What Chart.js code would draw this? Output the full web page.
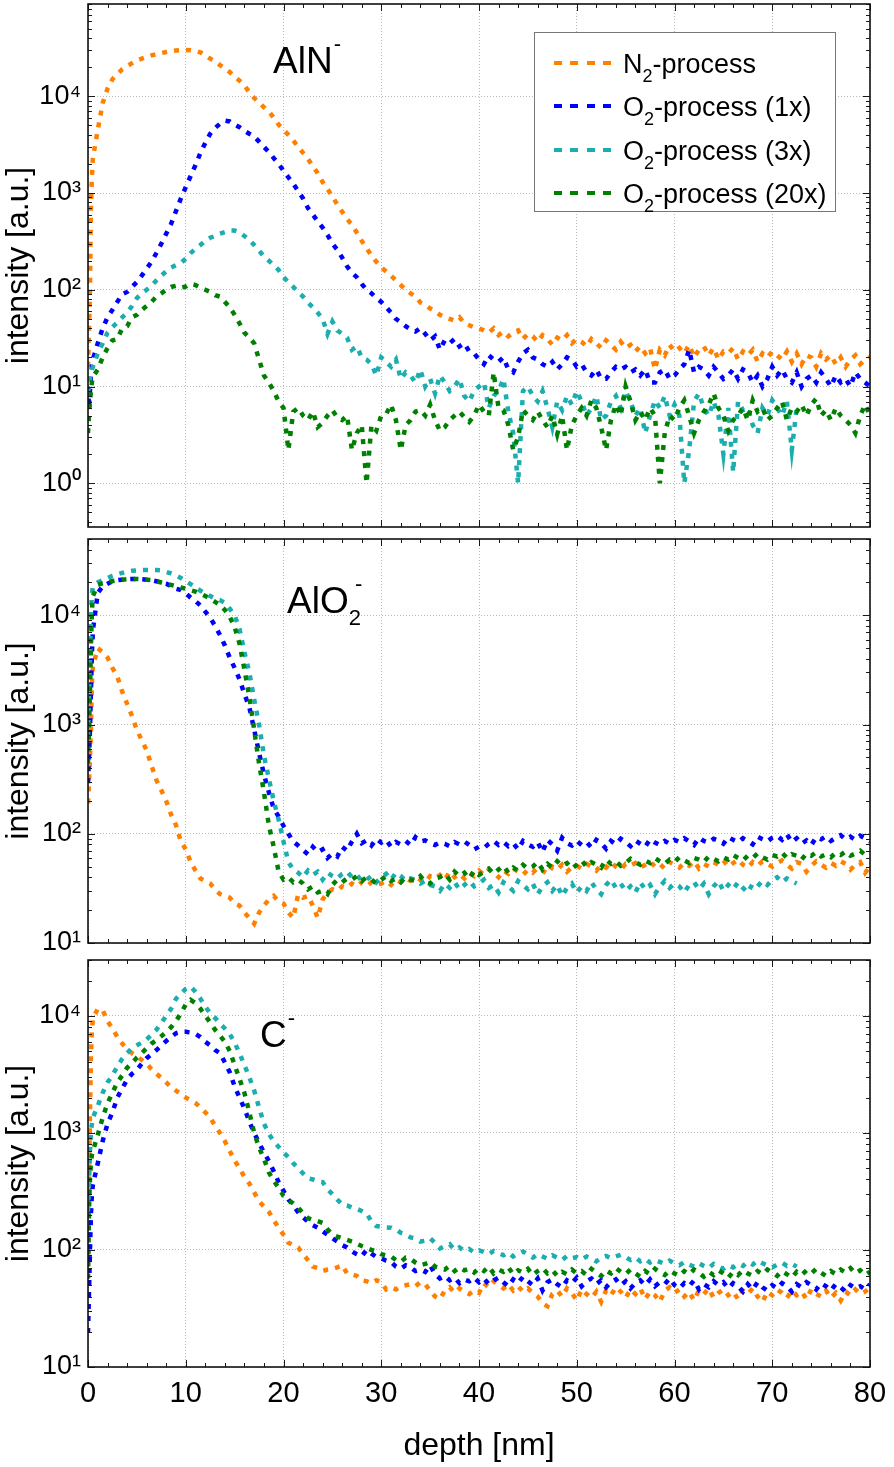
<!DOCTYPE html>
<html>
<head>
<meta charset="utf-8">
<script src="https://cdn.jsdelivr.net/npm/chart.js@4/dist/chart.umd.min.js"></script>
<style>
  html, body { margin: 0; padding: 0; background: #fff; }
  #wrap { position: relative; width: 894px; height: 1467px; overflow: hidden; background: #fff; }
  canvas { position: absolute; left: 0; }
  .lbl { position: absolute; font-family: 'Liberation Sans', Arial, Helvetica, sans-serif; font-size: 37px; line-height: 37px; color: #000; white-space: nowrap; }
  .sup { font-size: 22px; position: relative; top: -22px; margin-left: 1px; }
  .sub { font-size: 22px; position: relative; top: 12px; }
  #legend { position: absolute; left: 534px; top: 32px; width: 300px; height: 178px; border: 1.5px solid #777; background: #fff; }
  .lrow { position: absolute; left: 88px; font-family: 'Liberation Sans', Arial, Helvetica, sans-serif; font-size: 27px; line-height: 27px; color: #000; white-space: nowrap; }
  .lrow .s { font-size: 18px; position: relative; top: 9px; }
  .lsample { position: absolute; left: 19px; width: 59px; height: 4px; }
</style>
</head>
<body>
<div id="wrap">
  <canvas id="c1" width="894" height="540" style="top:0px;width:894px;height:540px"></canvas>
  <canvas id="c2" width="894" height="430" style="top:530px;width:894px;height:430px"></canvas>
  <canvas id="c3" width="894" height="522" style="top:945px;width:894px;height:522px"></canvas>
  <div class="lbl" style="left:273px;top:42px">AlN<span class="sup">-</span></div>
  <div class="lbl" style="left:287px;top:582px">AlO<span class="sub">2</span><span class="sup" style="margin-left:-6px">-</span></div>
  <div class="lbl" style="left:260px;top:1016px">C<span class="sup">-</span></div>
  <div id="legend"></div>
</div>
<script>
// ---------------- DATA ----------------
const depth = [0,0.1,0.2,0.3,0.4,
0.5,1,1.5,2,2.5,3,3.5,4,4.5,5,
5.5,6,6.5,7,7.5,8,8.5,9,9.5,10,
10.5,11,11.5,12,12.5,13,13.5,14,14.5,15,
15.5,16,16.5,17,17.5,18,18.5,19,19.5,20,
20.5,21,21.5,22,22.5,23,23.5,24,24.5,25,
25.5,26,26.5,27,27.5,28,28.5,29,29.5,30,
30.5,31,31.5,32,32.5,33,33.5,34,34.5,35,
35.5,36,36.5,37,37.5,38,38.5,39,39.5,40,
40.5,41,41.5,42,42.5,43,43.5,44,44.5,45,
45.5,46,46.5,47,47.5,48,48.5,49,49.5,50,
50.5,51,51.5,52,52.5,53,53.5,54,54.5,55,
55.5,56,56.5,57,57.5,58,58.5,59,59.5,60,
60.5,61,61.5,62,62.5,63,63.5,64,64.5,65,
65.5,66,66.5,67,67.5,68,68.5,69,69.5,70,
70.5,71,71.5,72,72.5,73,73.5,74,74.5,75,
75.5,76,76.5,77,77.5,78,78.5,79,79.5,80];

const seriesNames = ['N2-process', 'O2-process (1x)', 'O2-process (3x)', 'O2-process (20x)'];
const xTicks = [0,10,20,30,40,50,60,70,80];
const p1Decades = [1,10,100,1000,10000];
const p2Decades = [10,100,1000,10000];
const p3Decades = [10,100,1000,10000];

// Panel 1: AlN-
const p1N2 = [16,38,100,700,1500,
2300,4500,8500,12000,15000,17000,19000,20500,22000,23500,
24500,25500,26500,27200,28000,28700,29300,29800,30000,30200,
30000,29500,28500,26500,24500,23000,21000,19500,17800,16000,
14500,13000,11000,9600,8600,7700,7000,6000,5100,4500,
4000,3500,3000,2600,2250,1900,1600,1300,1100,920,
760,640,540,470,390,320,270,225,195,170,
155,140,125,112,100,92,85,74,70,64,
60,55,52,50,48,52,45,43,41,40,
38,36,40,34,37,33,36,38,31,35,
33,29,34,31,27,32,30,34,28,31,
29,26,31,28,25,30,27,24,29,25,
27,23,26,22,25,15,24,21,27,23,
25,22,27,20,24,26,21,25,19,23,
22,25,19,23,21,24,18,22,20,23,
21,19,23,18,22,17,21,20,16,22,
19,21,17,20,16,19,21,17,19,20];
const p1O1 = [10,6,9,13,16,
19,28,40,52,62,75,90,95,107,120,
140,165,195,240,300,380,480,650,880,1150,
1500,1950,2600,3300,4100,4700,5200,5600,5500,5100,
4800,4400,4100,3850,3400,3000,2650,2300,2000,1700,
1450,1250,1050,880,700,600,510,440,370,300,
260,215,175,150,135,115,100,92,82,75,
66,58,50,46,42,39,37,40,35,30,
33,24,30,28,31,26,28,23,22,19,
17,21,19,18,20,15,14,18,22,24,
20,19,17,16,18,15,17,20,19,16,
17,14,13,15,12,12,14,16,15,16,
14,15,13,15,11,11,14,15,12,13,
15,17,24,14,16,15,13,16,14,12,
13,15,12,15,14,11,13,10,12,16,
13,15,12,11,14,10,12,13,11,14,
12,10,13,11,12,10,14,12,11,10];
const p1O3 = [8.5,10,12,14,15,
16,22,28,36,41,46,52,58,68,82,
92,100,110,125,140,155,170,180,190,210,
240,265,290,320,345,360,380,395,410,410,
395,360,330,290,255,220,200,180,160,135,
120,107,95,85,74,66,58,50,35,47,
38,35,32,24,26,20,19,17,13,20,
18,16,19,12,14,13,11,15,10,12,
8.5,13,11,9,10,12,8,7,9,10,
11,6,8,9,12,5.5,3.3,1.0,9,10,
8,7,9,6,3.8,7,5.7,8,6.5,9,
7,5,6,8,4.5,5,7,8,6,9,
7,5,6,3.3,5,7.2,6,8,5,6.5,
5,1.0,2.2,7,8.5,6,5,7,5,2,
6,1.3,7,5.7,6,4,3.3,6,5,7.2,
6,5,7,2.2,6];
const p1O20 = [3.3,5,7,9,11,
12.6,15,20,25,30,31,40,42,52,55,
62,68,75,85,92,100,107,110,105,108,
115,112,105,100,95,88,85,75,66,55,
45,36,32,28,19,13,11,9,7,6,
2.2,5.5,6,5,4.5,5.5,3.8,4.2,5,5.7,
4.8,4.5,5,2.2,3.3,4,1.0,4,3.5,5,
5.2,6.5,4.5,2.2,4,4.5,5.5,5.7,5,6.5,
4.5,3.5,3.8,4.5,5,5.5,4.8,4.3,5,6.5,
5.5,5,14,6,5.7,4,2.2,3,5.7,5,
4.5,5.5,4.5,3.8,5,3.2,5,2.2,4,5,
6,5,7.2,6,3.8,2.2,4.5,6.5,5,10,
7,4.5,5.5,4.5,6,5,1.0,3.3,5,4.5,
6,7.2,5,3.3,4.5,5.5,6.5,8.5,6,5,
3.5,4.5,5,6,4.5,7.2,5.5,6,4.5,5,
6,7,4.5,6,5.5,6.5,5,6.5,7.5,5,
5.7,4.5,6,5,4.5,4,3.3,5,6.5,5];

// Panel 2: AlO2-
const p2N2 = [190,290,500,890,2400,
3400,5000,4600,4100,3300,2750,2000,1550,1200,890,
720,580,420,310,250,200,150,120,85,72,
55,46,39,37,35,31,28,27,26,23,
22,19,17,15,19,22,25,27,24,23,
19,17,28,26,27,22,17,25,29,31,
30,33,32,35,33,36,33,36,34,35,
37,34,38,36,39,37,40,38,36,41,
39,42,38,45,40,43,39,44,41,46,
42,47,44,40,46,43,48,45,42,47,
44,49,46,43,50,47,52,45,49,51,
48,53,50,46,52,49,55,50,47,53,
51,54,49,52,56,50,53,48,55,52,
49,54,51,56,48,53,50,55,52,57,
50,54,58,52,49,55,51,56,53,50,
54,57,52,48,55,53,45,51,56,52,
49,54,51,56,53,47,52,55,44,50];
const p2O1 = [290,500,890,2000,4500,
7300,16000,18500,19500,20500,21000,21200,21400,21500,21500,
21400,21200,21000,20500,20000,19500,18500,17500,17000,16000,
14500,13500,12300,10800,9500,8000,6600,5300,4100,3300,
2600,1900,1450,900,550,350,240,170,144,118,
100,85,78,71,65,76,68,72,60,66,
62,76,70,85,100,82,87,78,90,83,
88,76,84,80,86,79,93,85,87,82,
79,83,81,77,84,80,85,79,72,76,
74,81,86,79,84,77,82,72,86,80,
76,84,68,88,80,70,92,82,78,86,
79,84,75,88,82,73,86,80,90,84,
77,87,81,76,89,83,79,86,81,88,
84,91,85,79,92,86,83,90,87,81,
93,88,84,91,86,80,94,89,85,92,
96,88,99,84,91,81,87,79,93,89,
95,86,92,97,89,94,88,96,91,85];
const p2O3 = [770,1800,4150,10000,16000,
18000,20000,21000,22000,23000,23800,24500,25200,25600,25800,
26000,26000,26000,26000,25800,25000,24200,23200,22000,20500,
19300,18000,16800,15800,15000,14200,13800,13000,11500,10000,
7500,4600,3000,1700,1000,520,320,200,135,85,
55,47,44,40,46,42,45,38,44,41,
39,43,45,40,42,37,38,41,36,40,
43,38,44,41,37,39,38,35,37,34,
33,30,35,32,36,31,34,37,33,35,
38,32,34,29,36,33,30,37,34,31,
35,28,33,36,30,34,27,32,35,29,
33,30,36,31,28,34,38,32,35,30,
33,29,36,31,34,28,33,37,32,35,
33,29,34,36,31,35,28,33,37,30,
34,31,36,32,29,35,33,37,34,38,
40,36,39,37,35];
const p2O20 = [440,890,2000,5100,11000,
15000,19000,19700,20200,20600,21000,21200,21400,21500,21500,
21400,21200,21000,20500,20000,19500,19000,18500,18000,17500,
17000,16500,15800,15000,14200,13300,12500,11200,9700,7800,
5500,3200,1800,900,440,240,120,76,45,38,
40,36,38,35,31,33,29,30,28,34,
38,36,39,38,41,37,40,38,35,38,
41,37,39,36,40,38,37,41,36,35,
39,40,43,38,45,41,44,39,46,42,
45,48,43,47,51,44,49,46,52,48,
50,55,47,53,49,56,51,54,48,52,
57,50,55,52,49,58,53,56,51,54,
59,55,52,57,54,60,56,53,58,55,
61,57,54,60,58,55,62,59,56,61,
58,64,60,57,63,60,66,61,58,64,
62,67,60,65,63,58,66,63,68,62,
65,61,67,64,69,63,66,70,64,67];

// Panel 3: C-
const p3N2 = [74,410,1400,4600,7500,
9500,11500,11200,9000,7800,6600,5800,5200,4800,4500,
4200,3900,3500,3200,2950,2700,2450,2300,2150,2000,
1900,1800,1650,1500,1350,1150,1000,850,700,580,
500,420,370,310,260,235,212,180,155,135,
115,110,105,92,82,72,70,66,68,69,
71,74,63,62,60,55,54,52,55,53,
46,48,46,49,50,51,49,53,51,45,
40,38,45,48,43,47,44,42,45,43,
52,48,54,50,47,51,45,49,44,47,
43,40,35,33,42,45,40,47,43,37,
46,42,39,44,36,45,41,48,44,39,
46,42,47,38,44,41,36,45,48,43,
46,40,44,37,45,42,47,39,43,46,
41,44,38,45,42,47,40,36,44,41,
46,43,39,45,41,44,38,46,42,40,
45,39,43,37,44,41,46,42,44,48];
const p3O1 = [19.5,43,97,200,300,
360,550,850,1200,1500,2000,2400,2850,3200,3450,
3900,4350,4700,5100,5600,6100,6600,7100,7300,7300,
7200,7000,6600,6000,5600,5100,4800,4000,3300,2500,
2000,1620,1250,1000,820,680,575,470,380,320,
270,240,210,190,175,163,155,144,135,126,
118,110,105,97,92,88,100,93,87,85,
81,79,72,69,74,71,66,68,65,74,
62,57,60,55,58,52,56,54,58,53,
57,51,55,58,53,49,56,52,59,54,
50,57,45,53,56,51,48,55,52,58,
49,54,57,51,55,48,53,56,50,54,
47,52,55,50,56,49,53,51,57,50,
47,52,49,55,46,51,48,54,50,53,
47,52,49,44,51,46,53,48,45,50,
47,52,49,44,51,48,53,50,46,52,
49,45,51,48,44,50,47,49,46,51];
const p3O3 = [212,360,690,1020,1200,
1350,1700,2200,2700,3100,3700,4300,4800,5300,5600,
5900,6300,6900,7600,8700,10000,11500,14000,15500,17000,
17800,16000,14000,12000,10500,9600,8600,7800,7000,5900,
4800,3800,3000,2300,1650,1200,980,850,760,680,
620,550,500,450,410,400,385,380,330,300,
270,245,240,230,225,215,205,175,160,158,
156,155,150,140,135,128,125,118,120,126,
115,103,108,112,100,105,98,102,95,99,
96,92,98,94,90,95,88,93,97,91,
86,92,88,84,90,86,82,89,85,87,
83,88,84,80,86,89,85,88,91,87,
82,86,80,84,78,82,79,76,81,77,
74,79,75,72,77,73,70,76,72,69,
74,71,76,73,79,75,81,77,74,71,
75,78,73,76,72];
const p3O20 = [57,212,410,550,650,
700,960,1350,1800,2200,2700,3100,3600,3950,4400,
4800,5300,5800,6200,6700,7300,8000,9000,10500,12500,
13700,12800,11500,10000,8800,7600,6800,6000,5000,3800,
2900,2200,1500,1000,750,600,460,390,340,290,
265,250,230,205,187,180,176,170,150,136,
130,126,122,118,113,108,104,100,97,92,
90,88,82,79,86,84,78,74,76,79,
72,70,68,73,66,71,67,69,64,70,
66,72,63,68,65,71,62,67,64,69,
61,66,70,63,67,60,65,62,68,63,
66,61,69,64,60,67,63,70,65,62,
68,63,59,66,62,69,64,61,67,63,
60,66,62,68,64,59,65,61,67,63,
58,65,61,67,63,60,66,62,68,64,
60,66,62,58,65,61,67,63,69,64,
60,66,62,68,64,70,63,67,61,65];

// ---------------- STYLE ----------------
const FONT = "'Liberation Sans', Arial, Helvetica, sans-serif";
const COLORS = ['#FF8000', '#0000FF', '#1CAEAE', '#008000'];
const ORDERS = [3, 2, 1, 0];
const SUPS = {'-':'\u207B','0':'\u2070','1':'\u00B9','2':'\u00B2','3':'\u00B3','4':'\u2074','5':'\u2075'};

function toSup(n) { return String(n).split('').map(c => SUPS[c] || c).join(''); }

function makeDatasets(seriesList) {
  return seriesList.map((vals, i) => ({
    label: seriesNames[i],
    data: vals.map((v, k) => ({ x: depth[k], y: v })),
    borderColor: COLORS[i],
    backgroundColor: COLORS[i],
    borderWidth: 4.5,
    borderDash: [5, 7],
    borderCapStyle: 'butt',
    borderJoinStyle: 'miter',
    pointRadius: 0,
    tension: 0,
    fill: false,
    order: ORDERS[i]
  }));
}

const frameTicks = {
  id: 'frameTicks',
  afterDatasetsDraw(chart) {
    const { ctx, chartArea: a, scales: { x, y } } = chart;
    ctx.save();
    ctx.strokeStyle = '#1a1a1a';
    ctx.lineWidth = 1;
    ctx.setLineDash([]);
    ctx.beginPath();
    for (let v = x.min; v <= x.max + 1e-9; v += 2) {
      const px = Math.round(x.getPixelForValue(v)) + 0.5;
      const len = (Math.round(v) % 10 === 0) ? 7 : 4;
      ctx.moveTo(px, a.bottom); ctx.lineTo(px, a.bottom - len);
      ctx.moveTo(px, a.top); ctx.lineTo(px, a.top + len);
    }
    const e0 = Math.floor(Math.log10(y.min)), e1 = Math.ceil(Math.log10(y.max));
    for (let e = e0; e <= e1; e++) {
      for (let m = 1; m <= 9; m++) {
        const v = m * Math.pow(10, e);
        if (v < y.min * 0.999 || v > y.max * 1.001) continue;
        const py = Math.round(y.getPixelForValue(v)) + 0.5;
        const len = m === 1 ? 7 : 4;
        ctx.moveTo(a.left, py); ctx.lineTo(a.left + len, py);
        ctx.moveTo(a.right, py); ctx.lineTo(a.right - len, py);
      }
    }
    ctx.stroke();
    ctx.lineWidth = 1.6;
    ctx.strokeStyle = '#111';
    ctx.strokeRect(a.left, a.top, a.right - a.left, a.bottom - a.top);
    ctx.restore();
  }
};

function makeChart(id, seriesList, yMin, yMax, decades, cfg) {
  return new Chart(document.getElementById(id), {
    type: 'line',
    data: { datasets: makeDatasets(seriesList) },
    plugins: [frameTicks],
    options: {
      responsive: false,
      animation: false,
      devicePixelRatio: 1,
      layout: { padding: { left: 0, right: 24, top: cfg.padTop, bottom: cfg.padBottom } },
      plugins: { legend: { display: false }, tooltip: { enabled: false } },
      scales: {
        x: {
          type: 'linear', min: 0, max: 80,
          afterBuildTicks: s => { s.ticks = xTicks.map(v => ({ value: v })); },
          afterFit: s => { s.height = cfg.xHeight; s.paddingLeft = 0; s.paddingRight = 0; },
          grid: { color: '#b9b9b9', lineWidth: 1, drawTicks: false },
          border: { display: false, dash: [1, 2] },
          ticks: { display: cfg.showX, padding: 10, color: '#000', maxRotation: 0, font: { family: FONT, size: 29 } },
          title: { display: cfg.showX, text: 'depth [nm]', color: '#000', font: { family: FONT, size: 32 }, padding: { top: 0, bottom: 2 } }
        },
        y: {
          type: 'logarithmic', min: yMin, max: yMax,
          afterBuildTicks: s => { s.ticks = decades.map(v => ({ value: v })); },
          afterFit: s => { s.width = 88; s.paddingTop = 0; s.paddingBottom = 0; },
          grid: { color: '#b9b9b9', lineWidth: 1, drawTicks: false },
          border: { display: false, dash: [1, 2] },
          ticks: {
            padding: 7, color: '#000', font: { family: FONT, size: 27 },
            callback: v => '10' + toSup(Math.round(Math.log10(v)))
          },
          title: { display: true, text: 'intensity [a.u.]', color: '#000', font: { family: FONT, size: 32 }, padding: { top: 0, bottom: 0 } }
        }
      }
    }
  });
}

makeChart('c1', [p1N2, p1O1, p1O3, p1O20], 0.353, 90000, p1Decades, { padTop: 4, padBottom: 13, xHeight: 0, showX: false });
makeChart('c2', [p2N2, p2O1, p2O3, p2O20], 10, 50000, p2Decades, { padTop: 9, padBottom: 17, xHeight: 0, showX: false });
makeChart('c3', [p3N2, p3O1, p3O3, p3O20], 10, 30000, p3Decades, { padTop: 15, padBottom: 0, xHeight: 100, showX: true });

// ---------------- LEGEND (HTML, real text) ----------------
const legend = document.getElementById('legend');
seriesNames.forEach((name, i) => {
  const base = 41 + i * 43.4;
  const sample = document.createElement('div');
  sample.className = 'lsample';
  sample.style.top = (base - 13) + 'px';
  sample.style.background = 'repeating-linear-gradient(to right, ' + COLORS[i] + ' 0px, ' + COLORS[i] + ' 8px, transparent 8px, transparent 16.5px)';
  legend.appendChild(sample);
  const row = document.createElement('div');
  row.className = 'lrow';
  row.style.top = (base - 23) + 'px';
  const m = name.match(/^([A-Z])2(.*)$/);
  row.innerHTML = m[1] + '<span class="s">2</span>' + m[2];
  legend.appendChild(row);
});
</script>
</body>
</html>
